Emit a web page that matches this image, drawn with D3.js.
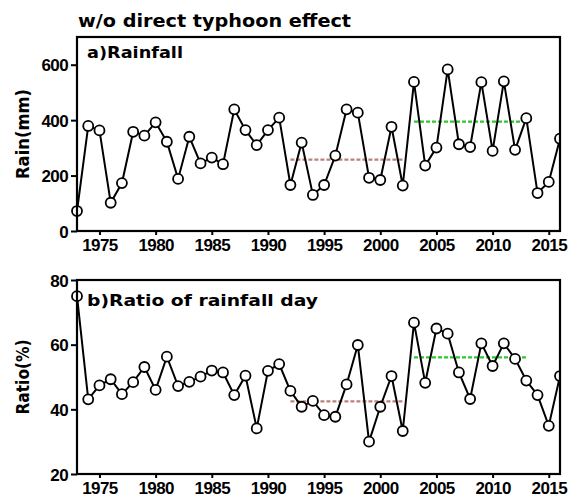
<!DOCTYPE html>
<html>
<head>
<meta charset="utf-8">
<script src="https://cdn.jsdelivr.net/npm/d3@7"></script>
<style>
  html, body { margin: 0; padding: 0; background: #fff; }
  svg { display: block; }
  .tick text { font-family: "Liberation Sans", Arial, sans-serif; font-weight: bold; font-size: 17px; fill: #000; letter-spacing: -0.6px; }
  .lbl { font-family: "DejaVu Sans", sans-serif; font-weight: bold; fill: #000; }
</style>
</head>
<body>
<svg id="chart" width="569" height="502"></svg>
<script>
const years = d3.range(1973, 2017);
const rainfall = [72, 379, 363, 102, 173, 358, 344, 392, 322, 188,
  340, 244, 265, 241, 439, 364, 310, 364, 409, 166,
  319, 130, 166, 272, 439, 427, 192, 184, 376, 164,
  538, 236, 301, 583, 313, 303, 537, 289, 540, 293,
  407, 137, 177, 333];
const ratio = [75, 43.1, 47.4, 49.3, 44.7, 48.4, 53.1, 46.0, 56.3, 47.2,
  48.5, 50.1, 52.0, 51.4, 44.4, 50.4, 34.1, 51.9, 54.0, 45.7,
  40.8, 42.6, 38.2, 37.7, 47.7, 59.9, 30.0, 40.8, 50.3, 33.3,
  66.8, 48.2, 65.0, 63.4, 51.4, 43.2, 60.4, 53.4, 60.4, 55.6,
  48.9, 44.4, 34.9, 50.3];
const period1 = [1992, 2002];
const period2 = [2003, 2013];
const xTicks = [1975, 1980, 1985, 1990, 1995, 2000, 2005, 2010, 2015];
const rainTicks = [0, 200, 400, 600];
const ratioTicks = [20, 40, 60, 80];
const titleText = "w/o direct typhoon effect";

const svg = d3.select("#chart");
const left = 77, right = 560;
const x = d3.scaleLinear().domain([1973, 2016]).range([left, right]);

svg.append("text").attr("class", "lbl")
  .attr("x", 78).attr("y", 27).attr("font-size", 18)
  .attr("textLength", 273).attr("lengthAdjust", "spacingAndGlyphs")
  .text(titleText);

function panel(id, values, yDomain, yTicks, top, bottom, label, ylabel, labelLen, ylabelLen, labelY) {
  const y = d3.scaleLinear().domain(yDomain).range([bottom, top]);
  const g = svg.append("g");
  const clipId = "clip" + id;
  svg.append("clipPath").attr("id", clipId).append("rect")
    .attr("x", left - 6).attr("y", top).attr("width", right - left + 6).attr("height", bottom - top);

  g.append("g").attr("transform", `translate(0,${bottom})`)
    .call(d3.axisBottom(x).tickValues(xTicks).tickFormat(d3.format("d")).tickSize(4).tickPadding(4))
    .call(a => a.select(".domain").remove())
    .call(a => a.selectAll(".tick line").attr("stroke", "#000").attr("stroke-width", 2));
  g.append("g").attr("transform", `translate(${left},0)`)
    .call(d3.axisLeft(y).tickValues(yTicks).tickSize(6).tickPadding(3))
    .call(a => a.select(".domain").remove())
    .call(a => a.selectAll(".tick line").attr("stroke", "#000").attr("stroke-width", 2))
    .call(a => a.selectAll(".tick text").attr("dy", "0.36em"));

  const means = [
    {p: period1, color: "#b8837a"},
    {p: period2, color: "#2ec72e"}
  ];
  means.forEach(m => {
    const vals = years.map((yr, i) => [yr, values[i]]).filter(d => d[0] >= m.p[0] && d[0] <= m.p[1]).map(d => d[1]);
    const mv = d3.mean(vals);
    g.append("line")
      .attr("x1", x(m.p[0])).attr("x2", x(m.p[1]))
      .attr("y1", y(mv)).attr("y2", y(mv))
      .attr("stroke", m.color).attr("stroke-width", 2.2).attr("stroke-dasharray", "4,2");
  });

  const data = years.map((yr, i) => ({yr, v: values[i]}));
  const pg = g.append("g").attr("clip-path", `url(#${clipId})`);
  pg.append("path").datum(data)
    .attr("fill", "none").attr("stroke", "#000").attr("stroke-width", 2)
    .attr("d", d3.line().x(d => x(d.yr)).y(d => y(d.v)));
  pg.selectAll("circle").data(data).join("circle")
    .attr("cx", d => x(d.yr)).attr("cy", d => y(d.v)).attr("r", 5)
    .attr("fill", "#fff").attr("stroke", "#000").attr("stroke-width", 1.8);

  g.append("rect").attr("x", left).attr("y", top).attr("width", right - left).attr("height", bottom - top)
    .attr("fill", "none").attr("stroke", "#000").attr("stroke-width", 2.2);

  g.append("text").attr("class", "lbl").attr("x", 87).attr("y", labelY).attr("font-size", 15.5)
    .attr("textLength", labelLen).attr("lengthAdjust", "spacingAndGlyphs").text(label);

  g.append("text")
    .attr("transform", `translate(29,${(top + bottom) / 2}) rotate(-90)`)
    .attr("text-anchor", "middle").attr("font-size", 17)
    .style("font-family", "'DejaVu Sans', sans-serif").style("font-weight", "600")
    .attr("textLength", ylabelLen).attr("lengthAdjust", "spacingAndGlyphs")
    .text(ylabel);
}

panel("a", rainfall, [0, 700], rainTicks, 37, 231, "a)Rainfall", "Rain(mm)", 96, 90, 58);
panel("b", ratio, [20, 80], ratioTicks, 280, 474, "b)Ratio of rainfall day", "Ratio(%)", 231, 75, 306);
</script>
</body>
</html>
